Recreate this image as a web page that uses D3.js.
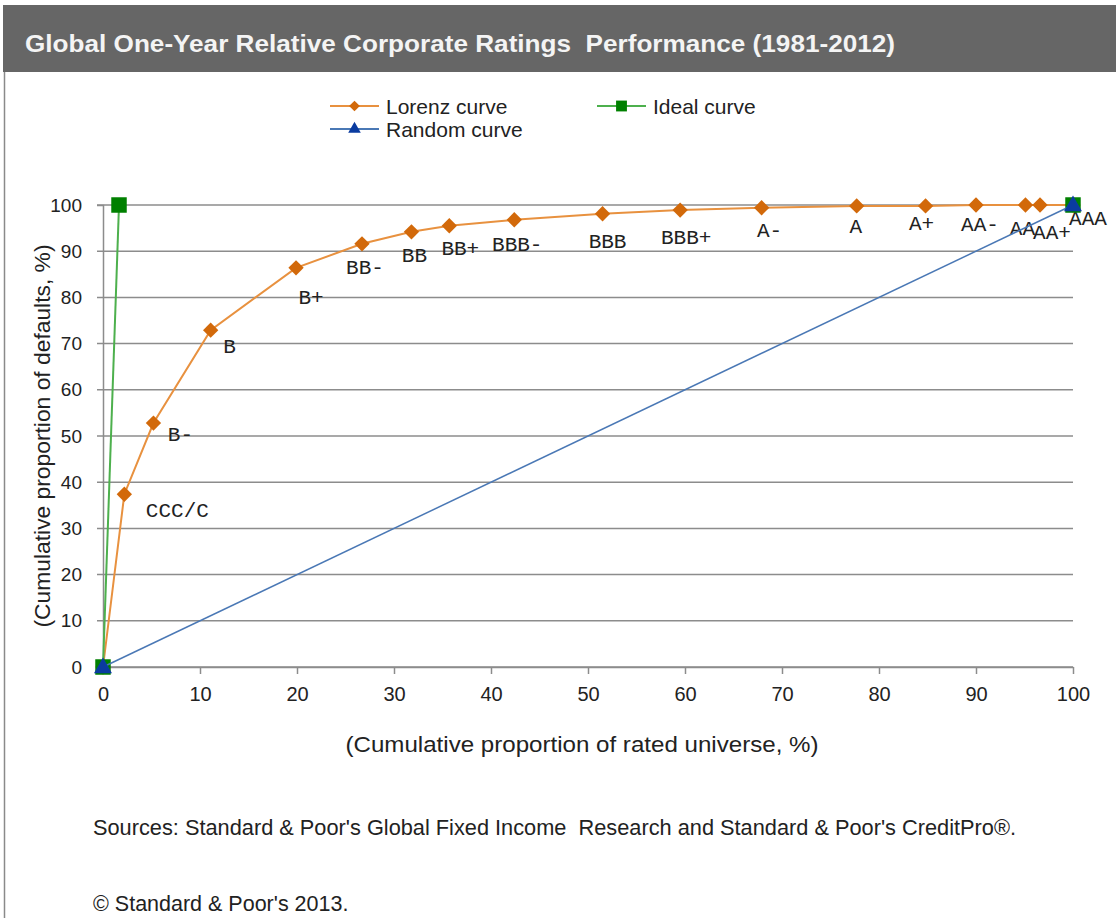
<!DOCTYPE html>
<html>
<head>
<meta charset="utf-8">
<script src="https://cdn.jsdelivr.net/npm/d3@7"></script>
<style>
  body { margin: 0; background: #fff; }
  svg { display: block; }
</style>
</head>
<body>
<script>
// chart data
var ratings = ["", "CCC/C", "B-", "B", "B+", "BB-", "BB", "BB+", "BBB-", "BBB", "BBB+", "A-", "A", "A+", "AA-", "AA", "AA+", "AAA"]
var lorenzX = [0, 2.2, 5.2, 11.1, 19.9, 26.7, 31.8, 35.7, 42.4, 51.5, 59.5, 67.9, 77.7, 84.8, 90.0, 95.1, 96.6, 100]
var lorenzY = [0, 37.4, 52.8, 72.9, 86.4, 91.6, 94.2, 95.5, 96.8, 98.1, 98.9, 99.4, 99.8, 99.8, 100, 100, 100, 100]
var idealX = [0, 1.65, 100]
var idealY = [0, 100, 100]
var randomX = [0, 100]
var randomY = [0, 100]
var xTicks = [0, 10, 20, 30, 40, 50, 60, 70, 80, 90, 100]
var yTicks = [0, 10, 20, 30, 40, 50, 60, 70, 80, 90, 100]

// label offsets from each point (pixels), placed by hand like the original
var labelDx = [0, 53, 27, 19, 15, 3, 3, 11, 3, 5, 6, 8, -1, -4, 4, -3, 12, 15]
var labelDy = [0, 16, 11, 16, 29, 23, 23, 22, 24, 27, 27, 22, 20, 17, 19, 23, 27, 13]

const width = 1116
const height = 918
const sans = "'Liberation Sans', Arial, sans-serif"
const mono = "'Liberation Mono', 'DejaVu Sans Mono', monospace"

var svg = d3.select("body").append("svg").attr("width", width).attr("height", height)

// header band + frame
svg.append("rect").attr("x", 3).attr("y", 5).attr("width", width - 3).attr("height", 67).attr("fill", "#666666")
svg.append("line").attr("x1", 4.5).attr("x2", 4.5).attr("y1", 72).attr("y2", height)
    .attr("stroke", "#8a8a8a").attr("stroke-width", 1.5)
svg.append("text").attr("x", 25).attr("y", 52).text("Global One-Year Relative Corporate Ratings  Performance (1981-2012)")
    .attr("fill", "#f4f4f4").attr("font-family", sans).attr("font-weight", "bold").attr("font-size", 24)
    .attr("textLength", 870).attr("lengthAdjust", "spacingAndGlyphs").style("white-space", "pre")

var x = d3.scaleLinear().domain([0, 100]).range([103, 1073])
var y = d3.scaleLinear().domain([0, 100]).range([667, 205])

// gridlines
svg.append("g").selectAll("line").data(yTicks).enter().append("line")
    .attr("x1", 97).attr("x2", x(100))
    .attr("y1", (d) => y(d)).attr("y2", (d) => y(d))
    .attr("stroke", "#8c8c8c").attr("stroke-width", 1.5)

// y axis
var yAxis = svg.append("g").attr("transform", "translate(103,0)")
    .call(d3.axisLeft(y).tickValues(yTicks).tickSize(6).tickPadding(15))
yAxis.select(".domain").attr("stroke", "#8c8c8c").attr("stroke-width", 1.5)
yAxis.selectAll(".tick line").attr("stroke", "none")
yAxis.selectAll("text").attr("font-family", sans).attr("font-size", 19).attr("fill", "#222")

// x axis
var xAxis = svg.append("g").attr("transform", "translate(0,667)")
    .call(d3.axisBottom(x).tickValues(xTicks).tickSize(7).tickSizeOuter(0).tickPadding(13))
xAxis.select(".domain").attr("stroke", "#8c8c8c").attr("stroke-width", 1.5)
xAxis.selectAll(".tick line").attr("stroke", "#8c8c8c").attr("stroke-width", 1.5)
xAxis.selectAll("text").attr("font-family", sans).attr("font-size", 20).attr("fill", "#222")

// axis titles
svg.append("text").attr("transform", "translate(50,436) rotate(-90)").attr("text-anchor", "middle")
    .text("(Cumulative proportion of defaults, %)").attr("font-family", sans).attr("font-size", 22).attr("fill", "#222")
    .attr("textLength", 383).attr("lengthAdjust", "spacingAndGlyphs")
svg.append("text").attr("x", 582).attr("y", 752).attr("text-anchor", "middle")
    .text("(Cumulative proportion of rated universe, %)").attr("font-family", sans).attr("font-size", 22).attr("fill", "#222")
    .attr("textLength", 473).attr("lengthAdjust", "spacingAndGlyphs")

var line = d3.line().x((d) => x(d[0])).y((d) => y(d[1]))
var diamond = d3.symbol().type(d3.symbolDiamond2).size(150)
var square = d3.symbol().type(d3.symbolSquare).size(240)
var triangle = d3.symbol().type(d3.symbolTriangle).size(140)

// Lorenz curve
var lorenz = lorenzX.map((d, i) => [d, lorenzY[i]])
svg.append("path").datum(lorenz).attr("fill", "none").attr("stroke", "#E8913F").attr("stroke-width", 2).attr("d", line)
svg.append("g").selectAll("path").data(lorenz).enter().append("path")
    .attr("transform", (d) => "translate(" + x(d[0]) + "," + y(d[1]) + ")")
    .attr("d", diamond).attr("fill", "#D2690A")

// rating labels
svg.append("g").selectAll("text").data(lorenz).enter().append("text")
    .attr("x", (d, i) => x(d[0]) + labelDx[i])
    .attr("y", (d, i) => y(d[1]) + labelDy[i] + 7)
    .attr("text-anchor", "middle")
    .text((d, i) => ratings[i])
    .attr("font-family", mono).attr("font-size", 21).attr("fill", "#222")

// Ideal curve
var ideal = idealX.map((d, i) => [d, idealY[i]])
svg.append("path").datum(ideal.slice(0, 2)).attr("fill", "none").attr("stroke", "#4DB04D").attr("stroke-width", 2).attr("d", line)
svg.append("g").selectAll("path").data(ideal).enter().append("path")
    .attr("transform", (d) => "translate(" + x(d[0]) + "," + y(d[1]) + ")")
    .attr("d", square).attr("fill", "#008000")

// Random curve
var random = randomX.map((d, i) => [d, randomY[i]])
svg.append("path").datum(random).attr("fill", "none").attr("stroke", "#4A78B5").attr("stroke-width", 1.5).attr("d", line)
svg.append("g").selectAll("path").data(random).enter().append("path")
    .attr("transform", (d) => "translate(" + x(d[0]) + "," + (y(d[1]) + 1) + ")")
    .attr("d", triangle).attr("fill", "#0A3BA0")

// legend
var legend = [
    { name: "Lorenz curve", color: "#E8913F", mark: "#D2690A", sym: diamond, lx: 330, ly: 106 },
    { name: "Ideal curve", color: "#4DB04D", mark: "#008000", sym: square, lx: 597, ly: 106 },
    { name: "Random curve", color: "#4A78B5", mark: "#0A3BA0", sym: triangle, lx: 330, ly: 129 }
]
var lg = svg.append("g").selectAll("g").data(legend).enter().append("g")
    .attr("transform", (d) => "translate(" + d.lx + "," + d.ly + ")")
lg.append("line").attr("x1", 0).attr("x2", 49).attr("stroke", (d) => d.color).attr("stroke-width", 2)
lg.append("path").attr("transform", "translate(24.5,0) scale(0.7)").attr("d", (d) => d.sym()).attr("fill", (d) => d.mark)
lg.append("text").attr("x", 56).attr("y", 8).text((d) => d.name)
    .attr("font-family", sans).attr("font-size", 21).attr("fill", "#222")

// footer
svg.append("text").attr("x", 93).attr("y", 835)
    .text("Sources: Standard & Poor's Global Fixed Income  Research and Standard & Poor's CreditPro®.")
    .attr("font-family", sans).attr("font-size", 21.5).attr("fill", "#222").style("white-space", "pre")
    .attr("textLength", 923).attr("lengthAdjust", "spacingAndGlyphs")
svg.append("text").attr("x", 93).attr("y", 911)
    .text("© Standard & Poor's 2013.")
    .attr("font-family", sans).attr("font-size", 21.5).attr("fill", "#222")
</script>
</body>
</html>
